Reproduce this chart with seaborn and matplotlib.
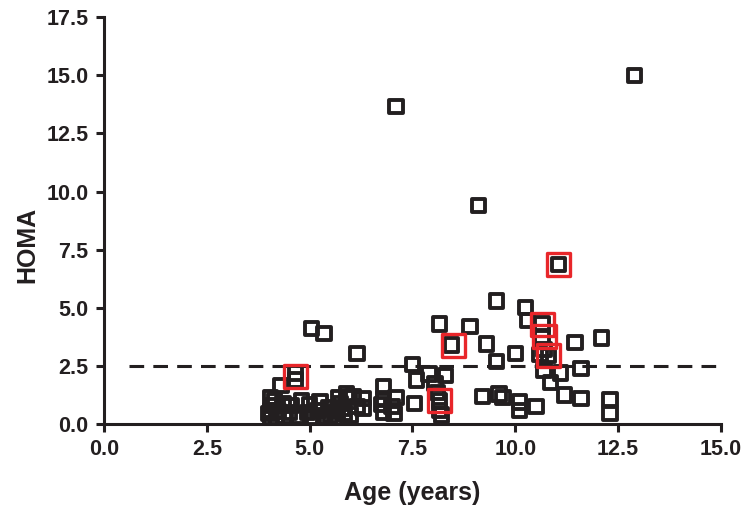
import matplotlib
matplotlib.use("Agg")
import matplotlib.pyplot as plt
import seaborn as sns
import pandas as pd

# ---- data ----
age = [12.9, 7.1, 9.1, 11.05, 9.55, 10.25, 10.3, 10.65, 8.15, 8.9,
       5.05, 5.35, 12.1, 10.65, 11.45, 9.3, 8.45, 6.15, 10.0, 10.7,
       10.8, 10.6, 9.55, 7.5, 11.6, 11.1, 10.7, 10.85, 7.9, 8.3,
       7.6, 8.05, 4.65, 4.65, 4.3, 6.8, 8.1, 9.2, 9.6, 9.7,
       10.1, 10.1, 10.5, 11.2, 11.6, 12.3, 12.3, 7.55, 8.15, 8.15,
       6.8, 6.8, 7.1, 7.05, 6.3, 5.95, 5.7, 5.8, 6.3,
       4.05, 4.05, 4.05, 4.1, 4.25, 4.35, 4.5, 4.55, 4.8, 4.95,
       5.0, 5.25, 5.2, 5.45, 5.5, 5.65, 5.85, 5.9, 6.05, 6.15, 4.0,
       4.2, 4.7, 5.1, 5.6, 6.0, 6.75, 7.0, 8.2, 4.15, 4.4, 5.35, 5.75]
homa = [15.0, 13.65, 9.4, 6.85, 5.3, 5.0, 4.45, 4.3, 4.3, 4.2,
        4.1, 3.9, 3.7, 3.75, 3.5, 3.45, 3.4, 3.05, 3.05, 3.2,
        2.95, 3.0, 2.7, 2.55, 2.4, 2.2, 2.3, 1.8, 2.15, 2.1,
        1.9, 1.75, 2.2, 1.9, 1.65, 1.6, 1.35, 1.2, 1.3, 1.15,
        0.95, 0.6, 0.75, 1.25, 1.1, 1.05, 0.45, 0.9, 1.0, 0.6,
        1.1, 0.5, 1.15, 0.45, 1.1, 1.15, 1.15, 0.7, 0.7,
        1.15, 0.6, 0.3, 0.8, 0.55, 0.9, 0.5, 0.8, 1.0, 0.5,
        0.85, 0.95, 0.6, 0.7, 0.4, 0.55, 0.45, 1.3, 1.2, 0.75, 0.45,
        0.25, 0.35, 0.3, 0.25, 0.4, 0.85, 0.75, 0.4, 1.0, 0.35, 0.3, 0.9]

red_age = [4.65, 8.15, 8.5, 11.05, 10.65, 10.7, 10.8]
red_homa = [2.05, 1.0, 3.4, 6.85, 4.3, 3.75, 2.95]

cutoff = 2.5
x_ticks = [0.0, 2.5, 5.0, 7.5, 10.0, 12.5, 15.0]
y_ticks = [0.0, 2.5, 5.0, 7.5, 10.0, 12.5, 15.0, 17.5]

df = pd.DataFrame({"Age": age, "HOMA": homa})
df_red = pd.DataFrame({"Age": red_age, "HOMA": red_homa})

sns.set_theme(style="ticks")
plt.rcParams["font.family"] = ["Liberation Sans", "DejaVu Sans"]
plt.rcParams["font.weight"] = "bold"

BLACK = "#231f20"
RED = "#e8262a"

fig = plt.figure(figsize=(7.51, 5.16), dpi=100)
ax = fig.add_axes([0.1385, 0.178, 0.8215, 0.789])

ax.plot([0.6, 15.0], [cutoff, cutoff], color=BLACK, lw=2.2,
        dashes=(4.8, 3.0), zorder=1)

sns.scatterplot(data=df, x="Age", y="HOMA", marker="s", s=92,
                facecolor="none", edgecolor=BLACK, linewidth=2.8,
                ax=ax, zorder=3, legend=False)
sns.scatterplot(data=df_red, x="Age", y="HOMA", marker="s", s=275,
                facecolor="none", edgecolor=RED, linewidth=2.4,
                ax=ax, zorder=4, legend=False)

ax.set_xlim(0, 15)
ax.set_ylim(0, 17.5)
ax.set_xticks(x_ticks)
ax.set_yticks(y_ticks)
ax.set_xticklabels([f"{v:.1f}" for v in x_ticks])
ax.set_yticklabels([f"{v:.1f}" for v in y_ticks])

for side in ["top", "right"]:
    ax.spines[side].set_visible(False)
for side in ["left", "bottom"]:
    ax.spines[side].set_linewidth(2.2)
    ax.spines[side].set_color(BLACK)

ax.tick_params(axis="both", direction="out", length=6, width=2.2,
               color=BLACK, labelsize=15.5, labelcolor=BLACK, pad=5)
for lab in ax.get_xticklabels() + ax.get_yticklabels():
    lab.set_fontweight("bold")

ax.set_xlabel("Age (years)", fontsize=18, fontweight="bold", color=BLACK,
              labelpad=15)
ax.set_ylabel("HOMA", fontsize=18, fontweight="bold", color=BLACK)
ax.yaxis.set_label_coords(-0.105, 0.44)

fig.savefig("out.png", dpi=100)
